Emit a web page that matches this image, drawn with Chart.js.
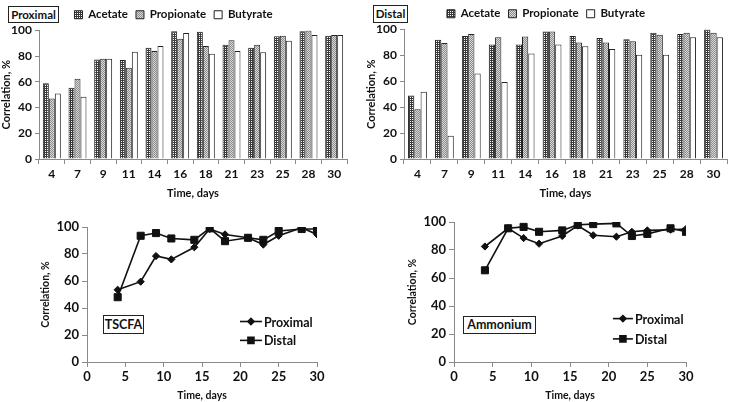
<!DOCTYPE html>
<html>
<head>
<meta charset="utf-8">
<script src="https://cdn.jsdelivr.net/npm/chart.js@4.4.0/dist/chart.umd.min.js"></script>
<style>
  body { margin: 0; background: #fff; width: 729px; height: 402px; overflow: hidden; position: relative; }
  canvas { position: absolute; }
  .tag { position: absolute; border: 1px solid #222; background: #fff; color: #111; white-space: nowrap;
         font: bold 11.5px Lato, sans-serif; line-height: 15px; padding: 0; box-sizing: border-box; text-align: center; }
</style>
</head>
<body>
<canvas id="proximal" width="365" height="200" style="left:0;top:0"></canvas>
<canvas id="distal" width="364" height="200" style="left:365px;top:0"></canvas>
<canvas id="tscfa" width="365" height="202" style="left:0;top:200px"></canvas>
<canvas id="ammonium" width="364" height="202" style="left:365px;top:200px"></canvas>
<div class="tag" style="left:8px;top:6px;width:51px;height:17px">Proximal</div>
<div class="tag" style="left:373px;top:5px;width:35px;height:18px;line-height:16px">Distal</div>
<div class="tag" style="left:103px;top:315px;width:41px;height:19px;font-size:12.5px;line-height:17px">TSCFA</div>
<div class="tag" style="left:463px;top:316px;width:73px;height:18px;font-size:12.5px;line-height:16px">Ammonium</div>
<script>
"use strict"

// bar charts: correlation by day
const days = ['4', '7', '9', '11', '14', '16', '18', '21', '23', '25', '28', '30'];
const proxAcetate    = [59, 55.5, 77.5, 77, 86.5, 99.5, 99, 89, 86.5, 95.5, 99.5, 96];
const proxPropionate = [47, 62.5, 78, 71, 84, 93.5, 88, 92.5, 89, 96, 100, 96.5];
const proxButyrate   = [51, 48.5, 78, 83.5, 88, 98, 82, 84, 83, 92, 96.5, 96.5];
const distAcetate    = [49, 92, 95, 88.5, 88.5, 98.5, 95, 93.5, 92.5, 97.5, 96.5, 100];
const distPropionate = [38.5, 89.5, 96.5, 94, 94.5, 98.5, 90, 90, 91, 96, 97.5, 97.5];
const distButyrate   = [52, 18, 66, 59.5, 81.5, 88.5, 87, 85, 80.5, 80.5, 94, 94];

// line charts
const dayNums = [4, 7, 9, 11, 14, 16, 18, 21, 23, 25, 28, 30];
const tscfaProximal = [53.5, 59.5, 78.5, 76, 85, 98.5, 94.5, 92, 87, 93.5, 99.5, 94.5];
const tscfaDistal   = [48, 93.5, 95.5, 91.5, 90.5, 99, 89.5, 92, 90.5, 97, 98.5, 98.5];
const ammProximal   = [82.5, 95.5, 88.5, 84.5, 90, 97.5, 90.5, 89.5, 93, 94, 94.5, 95];
const ammDistal     = [65.5, 95.5, 96.5, 93, 94, 98, 98.5, 99, 90, 91.5, 95.5, 93];

const family = 'Lato, "Open Sans", sans-serif';
const ink = '#111';
const axisGrey = '#8a8a8a';

function makePattern(size, draw) {
    const c = document.createElement('canvas');
    c.width = c.height = size;
    const g = c.getContext('2d');
    draw(g);
    return g.createPattern(c, 'repeat');
}

const acetateFill = makePattern(2, g => {
    g.fillStyle = '#3a3a3a'; g.fillRect(0, 0, 2, 2);
    g.fillStyle = '#fff'; g.fillRect(1, 1, 1, 1);
});
const propionateFill = makePattern(2, g => {
    g.fillStyle = '#d9d9d9'; g.fillRect(0, 0, 2, 2);
    g.fillStyle = '#8c8c8c'; g.fillRect(0, 0, 1, 1); g.fillRect(1, 1, 1, 1);
});

function barChart(id, a, p, b, rightPad, topPad) {
    const font = { family: family, size: 11, weight: 'bold' };
    const mk = (label, data, fill) => ({
        label: label, data: data, backgroundColor: fill,
        borderColor: '#222', borderWidth: 1,
        categoryPercentage: 0.7, barPercentage: 1
    });
    new Chart(document.getElementById(id), {
        type: 'bar',
        data: {
            labels: days,
            datasets: [mk('Acetate', a, acetateFill), mk('Propionate', p, propionateFill), mk('Butyrate', b, '#fff')]
        },
        options: {
            responsive: false, animation: false,
            layout: { padding: { left: 0, right: rightPad, top: topPad, bottom: 0 } },
            plugins: {
                legend: { labels: { boxWidth: 8, boxHeight: 8, padding: 8, color: ink, font: { family: family, size: 11.5, weight: 'bold' } } },
                tooltip: { enabled: false }
            },
            scales: {
                x: {
                    grid: { offset: true, drawOnChartArea: false, tickLength: 5, color: axisGrey },
                    border: { color: axisGrey },
                    ticks: { color: ink, font: { family: family, size: 12, weight: 'bold' }, padding: 3 },
                    title: { display: true, text: 'Time, days', color: ink, font: font, padding: 0 },
                    afterFit: s => { s.height = 41; }
                },
                y: {
                    min: 0, max: 100,
                    grid: { drawOnChartArea: false, tickLength: 4, color: axisGrey },
                    border: { color: axisGrey },
                    ticks: { stepSize: 20, color: ink, font: { family: family, size: 12, weight: 'bold' }, padding: 3 },
                    title: { display: true, text: 'Correlation, %', color: ink, font: font, padding: 0 },
                    afterFit: s => { s.width = 39; }
                }
            }
        }
    });
}

const lineLegend = {
    id: 'lineLegend',
    afterDraw(chart, args, opts) {
        const { ctx, chartArea: area } = chart;
        const x0 = area.left + opts.x * (area.right - area.left);
        chart.data.datasets.forEach((ds, i) => {
            const y = area.top + opts.y[i] * (area.bottom - area.top);
            ctx.save();
            ctx.strokeStyle = ds.borderColor;
            ctx.lineWidth = ds.borderWidth;
            ctx.beginPath();
            ctx.moveTo(x0, y);
            ctx.lineTo(x0 + opts.len, y);
            ctx.stroke();
            ctx.fillStyle = ds.backgroundColor;
            Chart.helpers.drawPoint(ctx, { pointStyle: ds.pointStyle, radius: ds.pointRadius * 0.85, borderWidth: 1 }, x0 + opts.len / 2, y);
            ctx.fillStyle = ink;
            ctx.font = 'bold 12.5px ' + family;
            ctx.textBaseline = 'middle';
            ctx.fillText(ds.label, x0 + opts.len + 2, y + 1);
            ctx.restore();
        });
    }
};

function lineChart(id, prox, dist, pad, legendPos) {
    const tickFont = { family: family, size: 13, weight: 'bold' };
    const titleFont = { family: family, size: 10.5, weight: 'bold' };
    const pts = arr => dayNums.map((d, i) => ({ x: d, y: arr[i] }));
    new Chart(document.getElementById(id), {
        type: 'line',
        data: {
            datasets: [
                { label: 'Proximal', data: pts(prox), borderColor: ink, backgroundColor: ink, borderWidth: 1.6,
                  pointStyle: 'rectRot', pointRadius: 3.6, pointBorderWidth: 1 },
                { label: 'Distal', data: pts(dist), borderColor: ink, backgroundColor: ink, borderWidth: 1.6,
                  pointStyle: 'rect', pointRadius: 5, pointBorderWidth: 1 }
            ]
        },
        plugins: [lineLegend],
        options: {
            responsive: false, animation: false,
            layout: { padding: pad },
            plugins: {
                legend: { display: false },
                tooltip: { enabled: false },
                lineLegend: legendPos
            },
            scales: {
                x: {
                    type: 'linear', min: 0, max: 30,
                    grid: { drawOnChartArea: false, tickLength: 5, color: axisGrey },
                    border: { color: axisGrey },
                    ticks: { stepSize: 5, color: ink, font: tickFont, padding: 2 },
                    title: { display: true, text: 'Time, days', color: ink, font: titleFont, padding: 0 },
                    afterFit: s => { s.height = 40; }
                },
                y: {
                    min: 0, max: 100,
                    grid: { drawOnChartArea: false, tickLength: 5, color: axisGrey },
                    border: { color: axisGrey },
                    ticks: { stepSize: 20, color: ink, font: tickFont, padding: 3 },
                    title: { display: true, text: 'Correlation, %', color: ink, font: titleFont, padding: 0 },
                    afterFit: s => { s.width = 48; }
                }
            }
        }
    });
}

barChart('proximal', proxAcetate, proxPropionate, proxButyrate, 18, 1);
barChart('distal', distAcetate, distPropionate, distButyrate, 2, 0);
lineChart('tscfa', tscfaProximal, tscfaDistal, { left: 39, right: 48, top: 27, bottom: 0 }, { x: 0.665, y: [0.70, 0.84], len: 22 });
lineChart('ammonium', ammProximal, ammDistal, { left: 41, right: 43, top: 22, bottom: 0 }, { x: 0.685, y: [0.69, 0.835], len: 20 });
</script>
</body>
</html>
